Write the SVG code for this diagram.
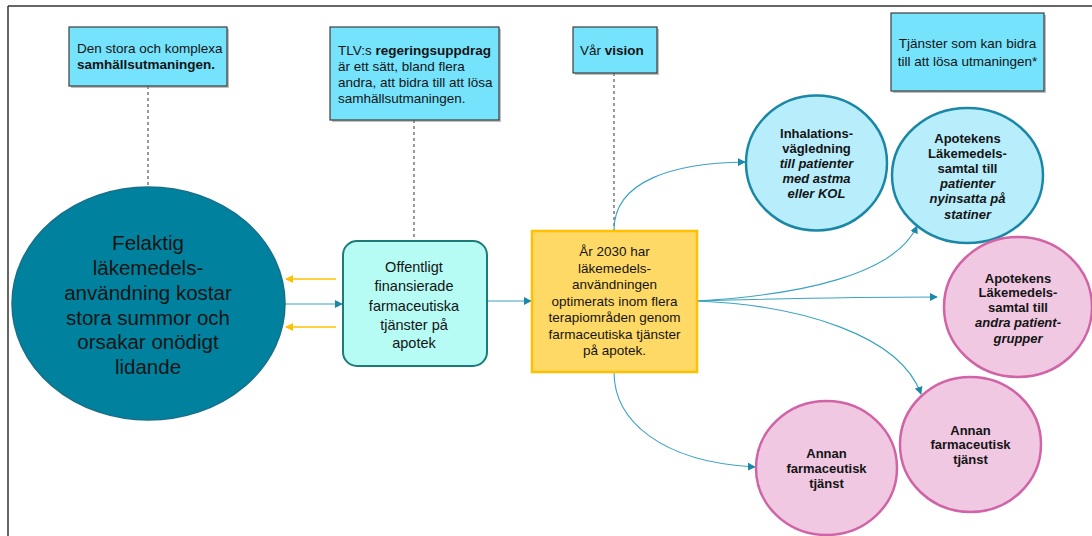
<svg xmlns="http://www.w3.org/2000/svg" width="1092" height="536" viewBox="0 0 1092 536">
<defs>
<style>
text{font-family:"Liberation Sans",Arial,sans-serif;fill:#141414}
.box{fill:#76e3fc;stroke:#3c3c3c;stroke-width:1.2}
.shadow{fill:#8a8a8a;opacity:.55}
.bt{font-size:13.5px}
.b{font-weight:bold}
.i{font-style:italic}
.dash{stroke:#333;stroke-width:1;stroke-dasharray:3,3;fill:none}
.conn{stroke:#3aa3c2;stroke-width:1.1;fill:none;marker-end:url(#ah)}
.yconn{stroke:#ffc000;stroke-width:1.3;fill:none;marker-end:url(#ay)}
.blue{fill:#b8eefc;stroke:#1b87a6;stroke-width:2.5}
.pink{fill:#f0c8e2;stroke:#d064a6;stroke-width:2.5}
.ct{font-size:13px;font-weight:bold;text-anchor:middle}
</style>
<marker id="ah" viewBox="0 0 10 10" refX="9" refY="5" markerWidth="8" markerHeight="8" markerUnits="userSpaceOnUse" orient="auto">
<path d="M0,0 L10,5 L0,10 z" fill="#1a89a8"/>
</marker>
<marker id="ay" viewBox="0 0 10 10" refX="9" refY="5" markerWidth="8" markerHeight="8" markerUnits="userSpaceOnUse" orient="auto">
<path d="M0,0 L10,5 L0,10 z" fill="#ffc000"/>
</marker>
</defs>
<rect x="0" y="0" width="1092" height="536" fill="#ffffff"/>
<g id="frame">
<line x1="8" y1="6" x2="1092" y2="6" stroke="#333" stroke-width="1.5"/>
<line x1="8" y1="6" x2="8" y2="536" stroke="#333" stroke-width="1.5"/>
</g>
<g id="connectors">
<line class="dash" x1="148" y1="86" x2="148" y2="187"/>
<line class="dash" x1="414" y1="120" x2="414" y2="241"/>
<line class="dash" x1="614" y1="73" x2="614" y2="230"/>
<line class="yconn" x1="336" y1="279" x2="286" y2="279"/>
<line class="yconn" x1="336" y1="327" x2="286" y2="327"/>
<line class="conn" x1="285" y1="304" x2="342" y2="304"/>
<line class="conn" x1="487" y1="301" x2="531" y2="301"/>
<path class="conn" d="M614,230 C614,180 675,163 745,162"/>
<path class="conn" d="M697,301 C800,295 895,275 917,226"/>
<path class="conn" d="M697,301 C800,298 880,297 937,297"/>
<path class="conn" d="M697,301 C800,305 900,335 921,394"/>
<path class="conn" d="M614,372 C614,420 660,462 755,467"/>
</g>
<g id="box-challenge">
<rect class="shadow" x="71" y="29" width="158" height="59"/>
<rect class="box" x="69" y="27" width="158" height="59"/>
<text class="bt" x="77" y="53">Den stora och komplexa</text>
<text class="bt b" x="77" y="69">samhällsutmaningen.</text>
</g>
<g id="box-tlv">
<rect class="shadow" x="332" y="29" width="169" height="93"/>
<rect class="box" x="330" y="27" width="169" height="93"/>
<text class="bt" x="338" y="54.5">TLV:s <tspan class="b">regeringsuppdrag</tspan></text>
<text class="bt" x="338" y="70.5">är ett sätt, bland flera</text>
<text class="bt" x="338" y="86.5">andra, att bidra till att lösa</text>
<text class="bt" x="338" y="103">samhällsutmaningen.</text>
</g>
<g id="box-vision">
<rect class="shadow" x="575" y="29" width="84" height="46"/>
<rect class="box" x="573" y="27" width="84" height="46"/>
<text class="bt" x="580" y="55">Vår <tspan class="b">vision</tspan></text>
</g>
<g id="box-services">
<rect class="shadow" x="893" y="15" width="153" height="78"/>
<rect class="box" x="891" y="13" width="153" height="78"/>
<text class="bt" x="967.5" y="48" text-anchor="middle">Tjänster som kan bidra</text>
<text class="bt" x="967.5" y="65.5" text-anchor="middle">till att lösa utmaningen*</text>
</g>
<g id="problem">
<ellipse cx="148.5" cy="303.5" rx="136.5" ry="116.5" fill="#00829f" stroke="#17708a" stroke-width="1.5"/>
<g font-size="20.5" text-anchor="middle">
<text x="148" y="250">Felaktig</text>
<text x="148" y="275">läkemedels-</text>
<text x="148" y="300">användning kostar</text>
<text x="148" y="324.5">stora summor och</text>
<text x="148" y="349">orsakar onödigt</text>
<text x="148" y="373.5">lidande</text>
</g>
</g>
<g id="public-services">
<rect x="343" y="241" width="144" height="125" rx="14" fill="#b6fcf5" stroke="#1c7b78" stroke-width="2"/>
<g font-size="14.5" text-anchor="middle">
<text x="414" y="272">Offentligt</text>
<text x="414" y="291">finansierade</text>
<text x="414" y="310.5">farmaceutiska</text>
<text x="414" y="329.5">tjänster på</text>
<text x="414" y="348">apotek</text>
</g>
</g>
<g id="vision-2030">
<rect x="532" y="231" width="165" height="141" fill="#ffd966" stroke="#ffc000" stroke-width="2.5"/>
<g font-size="13.5" text-anchor="middle">
<text x="614.5" y="256">År 2030 har</text>
<text x="614.5" y="272.5">läkemedels-</text>
<text x="614.5" y="289">användningen</text>
<text x="614.5" y="305.5">optimerats inom flera</text>
<text x="614.5" y="322">terapiområden genom</text>
<text x="614.5" y="338.5">farmaceutiska tjänster</text>
<text x="614.5" y="355">på apotek.</text>
</g>
</g>
<g id="inhalation">
<ellipse class="blue" cx="816.5" cy="163" rx="70.5" ry="67.5"/>
<text class="ct" x="816.5" y="137.5">Inhalations-</text>
<text class="ct" x="816.5" y="152.5">vägledning</text>
<text class="ct i" x="816.5" y="167.5" font-size="12.5">till patienter</text>
<text class="ct i" x="816.5" y="182.5" font-size="12.5">med astma</text>
<text class="ct i" x="816.5" y="197.5" font-size="12.5">eller KOL</text>
</g>
<g id="statins">
<ellipse class="blue" cx="967.5" cy="175.5" rx="75.5" ry="67.5"/>
<text class="ct" x="967.5" y="142.5">Apotekens</text>
<text class="ct" x="967.5" y="157.5">Läkemedels-</text>
<text class="ct" x="967.5" y="172.5">samtal till</text>
<text class="ct i" x="967.5" y="187.5" font-weight="normal" font-size="13.5">patienter</text>
<text class="ct i" x="967.5" y="202.5" font-weight="normal" font-size="13.5">nyinsatta på</text>
<text class="ct i" x="967.5" y="218.5" font-size="14">statiner</text>
</g>
<g id="other-groups">
<ellipse class="pink" cx="1018" cy="307" rx="74" ry="70"/>
<text class="ct" x="1018" y="282.5">Apotekens</text>
<text class="ct" x="1018" y="297">Läkemedels-</text>
<text class="ct" x="1018" y="311.5">samtal till</text>
<text class="ct i" x="1018" y="326.5" font-weight="normal" font-size="13.3">andra patient-</text>
<text class="ct i" x="1018" y="342.5" font-weight="normal" font-size="13.3">grupper</text>
</g>
<g id="other-service-right">
<ellipse class="pink" cx="970.5" cy="444.5" rx="70.5" ry="67.5"/>
<text class="ct" x="970.5" y="434.5">Annan</text>
<text class="ct" x="970.5" y="449">farmaceutisk</text>
<text class="ct" x="970.5" y="463.5">tjänst</text>
</g>
<g id="other-service-left">
<ellipse class="pink" cx="826.5" cy="468" rx="70.5" ry="67"/>
<text class="ct" x="826.5" y="457.5">Annan</text>
<text class="ct" x="826.5" y="472.5">farmaceutisk</text>
<text class="ct" x="826.5" y="487.5">tjänst</text>
</g>
</svg>
